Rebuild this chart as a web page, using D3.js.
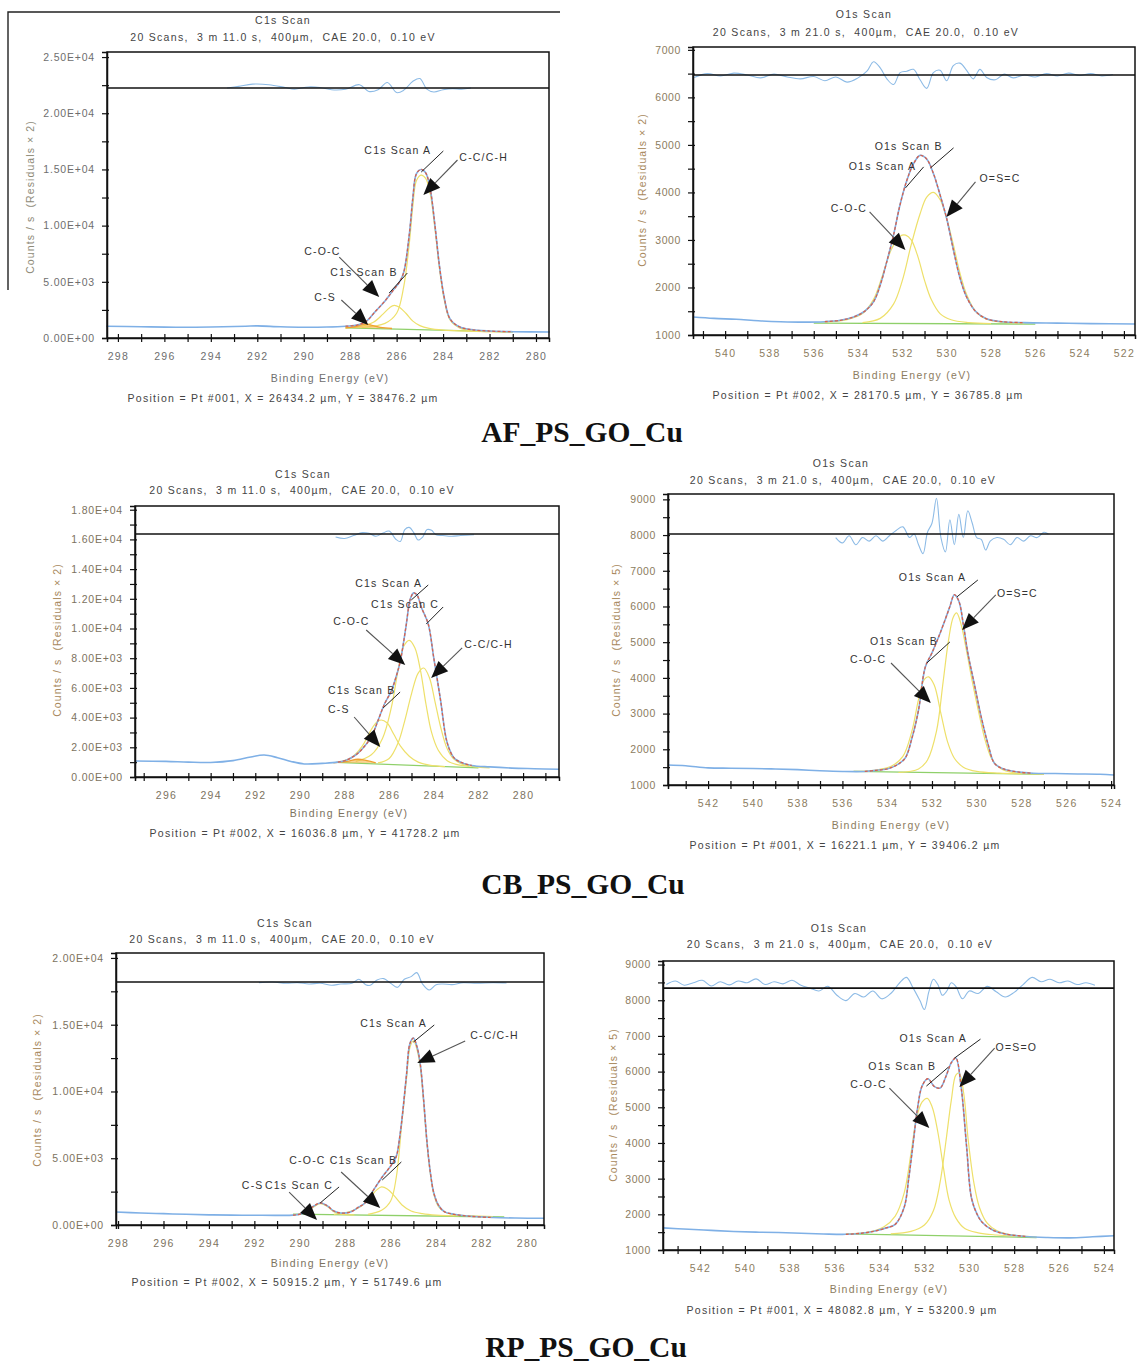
<!DOCTYPE html>
<html>
<head>
<meta charset="utf-8">
<script src="https://cdn.jsdelivr.net/npm/d3@7"></script>
<style>
  body { margin: 0; background: #fff; }
  svg text { font-family: "Liberation Sans", Arial, sans-serif; }
  svg text.caption { font-family: "Liberation Serif", "Times New Roman", serif; }
</style>
</head>
<body>
<svg id="fig" width="1138" height="1365"></svg>
<script>
// ---------- AF_PS_GO_Cu : C1s ----------
const afC1sEnvelope = [[298.5,1050],[297,1000],[295.5,960],[294,980],[292.5,1050],[292,1080],[291,1000],[290,960],[289,980],[288.2,1050],[287.7,1150],[287.3,1500],[286.9,2400],[286.5,3300],[286.15,4250],[285.9,4900],[285.7,5800],[285.45,9300],[285.3,12500],[285.15,14600],[284.95,15000],[284.75,14700],[284.55,13200],[284.35,10000],[284.15,6300],[283.95,3600],[283.7,1700],[283.3,1000],[282.8,750],[282,620],[281,560],[279.4,530]];
const afC1sCC = [[287.5,950],[286.5,1300],[286,2200],[285.7,4500],[285.45,8500],[285.3,11800],[285.15,14000],[284.95,14500],[284.75,14200],[284.55,12800],[284.35,9700],[284.15,6100],[283.95,3400],[283.7,1600],[283.3,900],[282.8,650],[282,560],[281,530]];
const afC1sCOC = [[288.2,900],[287.5,1050],[287,1400],[286.6,2100],[286.3,2700],[286.1,2900],[285.9,2750],[285.6,2200],[285.3,1500],[285,1100],[284.6,850],[284,700],[283,620],[282,560]];
const afC1sCS = [[288.2,900],[287.8,1000],[287.4,1250],[287.1,1150],[286.7,950],[286.2,850]];
const afC1sBackground = [[288.2,900],[281,540]];
const afC1sResidual = [[293.3,0],[292.8,150],[292.2,350],[291.5,300],[290.8,50],[290.4,-100],[289.8,100],[289.3,50],[288.8,-150],[288.2,-100],[287.6,300],[287.2,-300],[286.8,-150],[286.4,500],[286,-400],[285.7,-200],[285.3,600],[285.0,850],[284.7,-100],[284.4,-350],[284.0,-150],[283.6,-50],[283.2,-100],[282.8,0]];
const afC1sXTicks = [298,296,294,292,290,288,286,284,282,280];
const afC1sYTicks = [0,5000,10000,15000,20000,25000];

// ---------- AF_PS_GO_Cu : O1s ----------
const afO1sEnvelope = [[541.45,1380],[540.5,1350],[539.5,1330],[538.5,1300],[537.5,1280],[536.5,1270],[535.5,1280],[534.8,1310],[534.2,1380],[533.7,1500],[533.3,1700],[533,2050],[532.7,2550],[532.4,3100],[532.1,3750],[531.8,4250],[531.5,4600],[531.2,4780],[530.9,4700],[530.6,4400],[530.3,3950],[530.0,3450],[529.7,2800],[529.4,2200],[529.1,1800],[528.7,1500],[528.2,1340],[527.5,1280],[526.5,1260],[525,1250],[523.5,1240],[521.5,1230]];
const afO1sCOC = [[535.5,1270],[534.5,1320],[533.8,1450],[533.3,1750],[532.9,2250],[532.5,2800],[532.1,3080],[531.85,3100],[531.6,3000],[531.3,2650],[531.0,2150],[530.7,1750],[530.3,1450],[529.8,1320],[529,1260],[528,1240]];
const afO1sOSC = [[533.8,1260],[533,1350],[532.4,1650],[532,2150],[531.6,2900],[531.2,3550],[530.9,3900],[530.6,4000],[530.3,3850],[530,3450],[529.7,2900],[529.4,2300],[529.1,1850],[528.7,1500],[528.2,1330],[527.5,1270],[526.5,1240]];
const afO1sBackground = [[536,1250],[526,1230]];
const afO1sResidual = [[541.4,-50],[540.8,30],[540.2,-20],[539.6,40],[539,0],[538.4,-60],[537.8,20],[537.2,-40],[536.6,-80],[536,-30],[535.5,-120],[535,-40],[534.5,-150],[534,-60],[533.6,80],[533.3,280],[533,150],[532.7,-80],[532.4,-200],[532.1,50],[531.8,80],[531.5,120],[531.2,-100],[530.9,-280],[530.6,50],[530.3,100],[530,-120],[529.7,200],[529.4,250],[529.1,100],[528.8,-80],[528.5,120],[528.2,-50],[527.8,-100],[527.4,20],[527,-60],[526.5,0],[526,-40],[525.5,30],[525,-20],[524.5,40],[524,-10],[523.5,30],[523,-20],[522.5,10]];
const afO1sXTicks = [540,538,536,534,532,530,528,526,524,522];
const afO1sYTicks = [1000,2000,3000,4000,5000,6000,7000];

// ---------- CB_PS_GO_Cu : C1s ----------
const cbC1sEnvelope = [[297.39,1080],[296,1050],[295,1000],[294,980],[293,1100],[292.2,1350],[291.6,1480],[291,1300],[290.4,1050],[289.8,880],[289,920],[288.3,1000],[287.9,1150],[287.5,1480],[287.2,1900],[286.8,2700],[286.5,3800],[286.2,4950],[285.9,5800],[285.7,6700],[285.5,7800],[285.25,10100],[285.05,12000],[284.9,12400],[284.75,12250],[284.55,11400],[284.25,10300],[284.0,8000],[283.7,5200],[283.4,2300],[283.1,1300],[282.8,1000],[282.3,780],[281.5,680],[280.5,600],[279.5,560],[278.39,520]];
const cbC1sCS = [[288.3,1000],[287.7,1300],[287.2,2100],[286.8,3200],[286.55,3700],[286.36,3840],[286.1,3650],[285.8,2900],[285.5,2100],[285.1,1400],[284.7,1000],[284.2,800],[283.5,700]];
const cbC1sCOC = [[287.5,1050],[286.8,1500],[286.3,2600],[285.9,4700],[285.6,7200],[285.35,8800],[285.1,9200],[284.85,8700],[284.6,7200],[284.35,4900],[284.1,3000],[283.8,1800],[283.4,1100],[283,850],[282.4,720]];
const cbC1sCC = [[286.5,950],[286,1250],[285.6,2300],[285.3,3800],[285.0,5600],[284.7,7000],[284.45,7340],[284.2,6700],[283.95,5100],[283.7,3400],[283.4,1900],[283.1,1200],[282.7,850],[282.2,700],[281.5,620]];
const cbC1sSmall = [[288.5,950],[287.9,1050],[287.4,1200],[287.0,1100],[286.6,950]];
const cbC1sBackground = [[288.4,980],[282,620]];
const cbC1sResidual = [[288.4,-200],[288.0,-300],[287.6,-100],[287.2,100],[286.9,50],[286.6,-150],[286.3,50],[286.0,200],[285.7,-350],[285.5,-500],[285.3,300],[285.1,450],[284.9,100],[284.7,-400],[284.5,-200],[284.3,300],[284.1,250],[283.9,-50],[283.6,-100],[283.2,-150],[282.8,-100],[282.2,-50]];
const cbC1sXTicks = [296,294,292,290,288,286,284,282,280];
const cbC1sYTicks = [0,2000,4000,6000,8000,10000,12000,14000,16000,18000];

// ---------- CB_PS_GO_Cu : O1s ----------
const cbO1sEnvelope = [[543.79,1560],[543,1540],[542,1480],[541,1470],[540,1460],[539,1450],[538,1430],[537,1400],[536,1380],[535,1380],[534.5,1410],[534,1450],[533.6,1550],[533.2,1750],[532.9,2300],[532.6,3100],[532.3,4300],[532.0,4700],[531.7,5150],[531.4,5650],[531.2,6000],[531.0,6330],[530.8,6150],[530.6,5500],[530.4,4700],[530.1,3800],[529.8,2900],[529.5,2150],[529.2,1600],[528.8,1450],[528.1,1360],[527.5,1330],[526.5,1320],[525.5,1310],[524.5,1300],[523.87,1280]];
const cbO1sCOC = [[535.5,1380],[534.5,1420],[533.8,1530],[533.3,1800],[532.9,2500],[532.6,3400],[532.35,3950],[532.15,4030],[531.9,3800],[531.6,3000],[531.3,2200],[531,1750],[530.6,1500],[530,1380],[529,1330],[528,1310]];
const cbO1sOSC = [[533.5,1350],[532.6,1450],[532.2,1700],[531.8,2500],[531.5,3900],[531.25,5100],[531.05,5700],[530.9,5820],[530.7,5500],[530.5,4900],[530.2,3900],[529.9,3000],[529.6,2200],[529.3,1700],[528.9,1450],[528.4,1350],[527.5,1310],[527,1300]];
const cbO1sBackground = [[535.5,1380],[527,1300]];
const cbO1sResidual = [[536.3,-100],[536,-250],[535.7,-50],[535.4,-300],[535.1,-100],[534.8,-200],[534.5,-50],[534.2,-200],[533.9,-50],[533.6,100],[533.3,200],[533,-100],[532.8,0],[532.6,-300],[532.4,-550],[532.2,50],[532,300],[531.8,1000],[531.6,-100],[531.4,-500],[531.2,400],[531,-300],[530.8,550],[530.6,-100],[530.4,650],[530.2,300],[530,-100],[529.8,-150],[529.6,-450],[529.4,-200],[529.1,-100],[528.8,-150],[528.5,-300],[528.2,-100],[527.9,-200],[527.6,-50],[527.3,-100],[527,50],[526.8,0]];
const cbO1sXTicks = [542,540,538,536,534,532,530,528,526,524];
const cbO1sYTicks = [1000,2000,3000,4000,5000,6000,7000,8000,9000];

// ---------- RP_PS_GO_Cu : C1s ----------
const rpC1sEnvelope = [[298.09,970],[297,900],[296,850],[295,800],[294,760],[293,740],[292,730],[291,720],[290.3,740],[289.8,900],[289.4,1400],[289.1,1650],[288.8,1450],[288.5,1050],[288.2,900],[287.8,950],[287.4,1350],[287.13,1650],[286.8,2500],[286.37,3600],[286.05,4300],[285.76,5100],[285.6,6600],[285.46,8600],[285.3,11300],[285.15,13600],[285.0,14000],[284.85,13400],[284.7,12100],[284.55,9400],[284.4,6200],[284.25,3900],[284.1,2400],[283.9,1500],[283.64,1000],[283.2,800],[282.5,650],[281.5,560],[280.5,520],[279.25,500]];
const rpC1sScanC = [[290.3,750],[289.8,880],[289.4,1350],[289.1,1600],[288.8,1400],[288.5,1000],[288.2,820],[287.6,760]];
const rpC1sCO = [[288.5,800],[287.8,1000],[287.3,1400],[286.9,2100],[286.6,2650],[286.4,2850],[286.15,2700],[285.85,2200],[285.5,1500],[285.1,1050],[284.6,850],[284,740],[283,680]];
const rpC1sCC = [[287,800],[286.4,1100],[286,1800],[285.75,3600],[285.5,7800],[285.3,11000],[285.15,13300],[285.0,13800],[284.85,13200],[284.7,11900],[284.55,9200],[284.4,6100],[284.25,3800],[284.1,2300],[283.9,1400],[283.6,950],[283.1,760],[282.4,680],[281.5,620]];
const rpC1sBackground = [[290.3,820],[281,600]];
const rpC1sResidual = [[291.8,-50],[291.2,0],[290.6,-100],[290.1,-50],[289.6,-150],[289.1,-100],[288.6,-250],[288.2,-150],[287.7,-100],[287.4,200],[287.1,-200],[286.9,-250],[286.6,150],[286.3,250],[286.0,-100],[285.7,-400],[285.4,200],[285.1,400],[284.85,700],[284.6,-150],[284.3,-600],[284.0,-200],[283.7,-150],[283.3,-200],[282.8,-50],[282.2,-100],[281.5,-50],[280.9,-80]];
const rpC1sXTicks = [298,296,294,292,290,288,286,284,282,280];
const rpC1sYTicks = [0,5000,10000,15000,20000];

// ---------- RP_PS_GO_Cu : O1s ----------
const rpO1sEnvelope = [[543.65,1620],[542.5,1580],[541.5,1550],[540.5,1520],[539.5,1500],[538.5,1490],[537.5,1470],[536.5,1450],[535.5,1440],[534.8,1470],[534.2,1530],[533.7,1620],[533.3,1720],[532.9,2200],[532.7,3000],[532.5,4000],[532.3,5000],[532.1,5600],[531.85,5800],[531.55,5580],[531.3,5540],[531.05,5850],[530.8,6250],[530.6,6380],[530.36,5550],[530.12,3900],[529.9,2450],[529.65,2000],[529.43,1780],[528.96,1560],[528.4,1450],[527.5,1380],[526.5,1350],[525.5,1340],[524.5,1370],[523.55,1400]];
const rpO1sCOC = [[535.5,1450],[534.5,1500],[533.8,1650],[533.3,1950],[532.9,2600],[532.6,3700],[532.35,4700],[532.1,5150],[531.87,5250],[531.65,5000],[531.4,4300],[531.15,3300],[530.9,2400],[530.6,1900],[530.2,1600],[529.6,1480],[528.8,1420],[528,1390]];
const rpO1sOSO = [[533.5,1450],[532.6,1520],[532,1700],[531.6,2100],[531.3,2900],[531.05,4000],[530.8,5200],[530.6,5900],[530.45,5960],[530.25,5400],[530.05,4100],[529.8,2900],[529.55,2200],[529.2,1750],[528.8,1550],[528.2,1430],[527.5,1380],[527,1360]];
const rpO1sBackground = [[535.5,1450],[527,1350]];
const rpO1sResidual = [[543.5,100],[543.1,200],[542.7,80],[542.3,150],[541.9,220],[541.5,60],[541.1,180],[540.7,90],[540.3,200],[539.9,150],[539.5,260],[539.1,100],[538.7,180],[538.3,120],[537.9,220],[537.5,80],[537.1,0],[536.7,-80],[536.3,50],[535.9,-200],[535.5,-350],[535.1,-150],[534.7,-250],[534.3,-80],[533.9,-300],[533.5,-150],[533.1,150],[532.8,300],[532.5,0],[532.2,-350],[532.0,-600],[531.8,-100],[531.6,250],[531.4,100],[531.2,-200],[531.0,-80],[530.8,150],[530.6,50],[530.3,-300],[530,-80],[529.6,-150],[529.2,50],[528.8,-100],[528.4,-250],[528,-120],[527.6,100],[527.2,300],[526.8,180],[526.4,250],[526,150],[525.6,200],[525.2,100],[524.8,150],[524.4,80]];
const rpO1sXTicks = [542,540,538,536,534,532,530,528,526,524];
const rpO1sYTicks = [1000,2000,3000,4000,5000,6000,7000,8000,9000];

// ---------- texts ----------
const c1sSubtitle = "20 Scans,  3 m 11.0 s,  400µm,  CAE 20.0,  0.10 eV";
const o1sSubtitle = "20 Scans,  3 m 21.0 s,  400µm,  CAE 20.0,  0.10 eV";
const sampleNames = ["AF_PS_GO_Cu", "CB_PS_GO_Cu", "RP_PS_GO_Cu"];

const svg = d3.select('#fig');

function expFmt(v) {
  const s = v.toExponential(2).toUpperCase();
  return s.replace(/E([+-])(\d+)$/, (m, sg, e) => 'E' + sg + (e.length < 2 ? '0' + e : e));
}

function drawPanel(p) {
  const x = d3.scaleLinear().domain(p.xDomain).range([p.left, p.right]);
  const y = d3.scaleLinear().domain(p.yDomain).range([p.bottom, p.top]);
  const g = svg.append('g');
  const smooth = d3.line().x(d => x(d[0])).y(d => y(d[1])).curve(d3.curveCatmullRom.alpha(0.5));

  // residuals
  g.append('path').datum(p.residual)
    .attr('d', d3.line().x(d => x(d[0])).y(d => y(p.resLevel + d[1])).curve(d3.curveCatmullRom.alpha(0.5)))
    .attr('fill', 'none').attr('stroke', '#8dbbe6').attr('stroke-width', 1.1);

  // background + components
  g.append('path').datum(p.background).attr('d', smooth)
    .attr('fill', 'none').attr('stroke', '#8fd06a').attr('stroke-width', 1.3);
  p.components.forEach(c => {
    g.append('path').datum(c).attr('d', smooth)
      .attr('fill', 'none').attr('stroke', '#eee06a').attr('stroke-width', 1.2);
  });
  if (p.small) {
    g.append('path').datum(p.small).attr('d', smooth)
      .attr('fill', '#f4b040').attr('fill-opacity', 0.55)
      .attr('stroke', '#f0a030').attr('stroke-width', 1.4);
  }

  // measured data and fit envelope
  g.append('path').datum(p.envelope).attr('d', smooth)
    .attr('fill', 'none').attr('stroke', '#7fb0e6').attr('stroke-width', 1.6);
  const lo = Math.min(p.background[0][0], p.background[1][0]);
  const hi = Math.max(p.background[0][0], p.background[1][0]);
  g.append('path').datum(p.envelope.filter(d => d[0] >= lo && d[0] <= hi)).attr('d', smooth)
    .attr('fill', 'none').attr('stroke', '#d8604c').attr('stroke-width', 1.3)
    .attr('stroke-dasharray', '3,2');

  // plot frame and residual divider
  g.append('rect').attr('x', p.left).attr('y', p.top)
    .attr('width', p.right - p.left).attr('height', p.bottom - p.top)
    .attr('fill', 'none').attr('stroke', '#111').attr('stroke-width', 1.5);
  g.append('line').attr('x1', p.left).attr('x2', p.right)
    .attr('y1', y(p.resLevel)).attr('y2', y(p.resLevel))
    .attr('stroke', '#111').attr('stroke-width', 1.6);

  // x axis: tick every 1 eV, label every 2 eV
  const [xa, xb] = [Math.ceil(Math.min(...p.xDomain)), Math.floor(Math.max(...p.xDomain))];
  const xAll = d3.range(xa, xb + 1);
  const xAx = g.append('g').attr('transform', `translate(0,${p.bottom})`)
    .call(d3.axisBottom(x).tickValues(xAll).tickSizeOuter(0).tickSize(4).tickPadding(11)
      .tickFormat(d => p.xTicks.includes(d) ? d : ''));
  xAx.select('.domain').attr('stroke', '#111').attr('stroke-width', 1.5);
  xAx.selectAll('.tick line').attr('y1', -4).attr('y2', 4).attr('stroke', '#111').attr('stroke-width', 1.2);
  xAx.selectAll('.tick text').attr('fill', p.tickColor).attr('font-size', 10.5)
    .attr('letter-spacing', 1.3);

  // y axis with minor ticks
  const step = p.yTicks[1] - p.yTicks[0];
  const yAll = [];
  p.yTicks.forEach(t => { yAll.push(t); if (t + step / 2 <= p.yDomain[1]) yAll.push(t + step / 2); });
  const yAx = g.append('g').attr('transform', `translate(${p.left},0)`)
    .call(d3.axisLeft(y).tickValues(yAll).tickSizeOuter(0).tickSize(5).tickPadding(7)
      .tickFormat(d => p.yTicks.includes(d) ? (p.expLabels ? expFmt(d) : d) : ''));
  yAx.select('.domain').attr('stroke', '#111').attr('stroke-width', 1.5);
  yAx.selectAll('.tick line').attr('x1', -5).attr('x2', 2).attr('stroke', '#111').attr('stroke-width', 1.2);
  yAx.selectAll('.tick text').attr('fill', p.tickColor).attr('font-size', 10.5)
    .attr('letter-spacing', p.expLabels ? 0.8 : 0.6);

  // text
  const txt = (t, cx, cy, opts = {}) => g.append('text').attr('x', cx).attr('y', cy)
    .attr('dy', '0.35em').attr('text-anchor', opts.anchor || 'middle')
    .attr('font-size', opts.size || 10.5).attr('letter-spacing', opts.ls == null ? 1.3 : opts.ls)
    .attr('fill', opts.fill || '#444').style('white-space', 'pre').text(t);
  txt(p.title, p.titlePos[0], p.titlePos[1]);
  txt(p.subtitle, p.subPos[0], p.subPos[1]);
  txt('Binding Energy (eV)', p.xlabPos[0], p.xlabPos[1], { fill: p.tickColor });
  txt(p.position, p.posPos[0], p.posPos[1]);
  txt(p.ylabel, 0, 0, { fill: p.ylabColor, ls: 1.1 })
    .attr('transform', `translate(${p.ylabPos[0]},${p.ylabPos[1]}) rotate(-90)`);

  // annotations (in data coordinates)
  p.labels.forEach(l => txt(l[0], x(l[1]), y(l[2]), { anchor: 'start', fill: '#333', ls: 1.2 }));
  p.leaders.forEach(a => {
    const x1 = x(a[0]), y1 = y(a[1]), x2 = x(a[2]), y2 = y(a[3]);
    if (!a[4]) {
      g.append('line').attr('x1', x1).attr('y1', y1).attr('x2', x2).attr('y2', y2)
        .attr('stroke', '#222').attr('stroke-width', 1);
      return;
    }
    const ang = Math.atan2(y2 - y1, x2 - x1), L = 17, W = 7;
    const bx = x2 - L * Math.cos(ang), by = y2 - L * Math.sin(ang);
    g.append('line').attr('x1', x1).attr('y1', y1).attr('x2', bx).attr('y2', by)
      .attr('stroke', '#555').attr('stroke-width', 1.1);
    const px = -Math.sin(ang) * W, py = Math.cos(ang) * W;
    g.append('path').attr('d', `M${x2},${y2}L${bx + px},${by + py}L${bx - px},${by - py}Z`)
      .attr('fill', '#111');
  });
}

const panels = [
  { // AF C1s
    left: 107, right: 549, top: 52, bottom: 338,
    xDomain: [298.47, 279.44], yDomain: [0, 25450], resLevel: 22240,
    xTicks: afC1sXTicks, yTicks: afC1sYTicks, expLabels: true,
    envelope: afC1sEnvelope, components: [afC1sCOC, afC1sCC], small: afC1sCS,
    background: afC1sBackground, residual: afC1sResidual,
    title: 'C1s Scan', subtitle: c1sSubtitle,
    position: 'Position = Pt #001, X = 26434.2 µm, Y = 38476.2 µm',
    ylabel: 'Counts / s  (Residuals × 2)',
    titlePos: [283, 20], subPos: [283, 37], xlabPos: [330, 378], posPos: [283, 398], ylabPos: [30, 197],
    tickColor: '#6e6e6e', ylabColor: '#8e8a78',
    labels: [['C1s Scan A', 287.39, 16730], ['C-C/C-H', 283.3, 16100], ['C-O-C', 289.98, 7740],
             ['C1s Scan B', 288.86, 5870], ['C-S', 289.55, 3650]],
    leaders: [[283.99, 16640, 284.94, 14770, false], [283.38, 15840, 284.85, 12720, true],
              [288.47, 7200, 286.75, 3650, true], [285.54, 5780, 286.32, 4000, false],
              [288.38, 3380, 287.22, 1160, true]]
  },
  { // AF O1s
    left: 693, right: 1135, top: 47, bottom: 335,
    xDomain: [541.45, 521.5], yDomain: [1000, 7060], resLevel: 6470,
    xTicks: afO1sXTicks, yTicks: afO1sYTicks, expLabels: false,
    envelope: afO1sEnvelope, components: [afO1sCOC, afO1sOSC],
    background: afO1sBackground, residual: afO1sResidual,
    title: 'O1s Scan', subtitle: o1sSubtitle,
    position: 'Position = Pt #002, X = 28170.5 µm, Y = 36785.8 µm',
    ylabel: 'Counts / s  (Residuals × 2)',
    titlePos: [864, 14], subPos: [866, 32], xlabPos: [912, 375], posPos: [868, 395], ylabPos: [642, 190],
    tickColor: '#8c7c60', ylabColor: '#a8885c',
    labels: [['O1s Scan B', 533.25, 4960], ['O1s Scan A', 534.42, 4558], ['O=S=C', 528.52, 4305], ['C-O-C', 535.23, 3674]],
    leaders: [[529.69, 4937, 530.73, 4516, false], [531.04, 4537, 531.86, 4095, false],
              [528.7, 4221, 530.01, 3484, true], [533.48, 3589, 531.86, 2789, true]]
  },
  { // CB C1s
    left: 135, right: 559, top: 506, bottom: 777,
    xDomain: [297.39, 278.39], yDomain: [0, 18250], resLevel: 16360,
    xTicks: cbC1sXTicks, yTicks: cbC1sYTicks, expLabels: true,
    envelope: cbC1sEnvelope, components: [cbC1sCS, cbC1sCOC, cbC1sCC], small: cbC1sSmall,
    background: cbC1sBackground, residual: cbC1sResidual,
    title: 'C1s Scan', subtitle: c1sSubtitle,
    position: 'Position = Pt #002, X = 16036.8 µm, Y = 41728.2 µm',
    ylabel: 'Counts / s  (Residuals × 2)',
    titlePos: [303, 474], subPos: [302, 490], xlabPos: [349, 813], posPos: [305, 833], ylabPos: [57, 640],
    tickColor: '#7c725e', ylabColor: '#a8885c',
    labels: [['C1s Scan A', 287.52, 13064], ['C1s Scan C', 286.81, 11650], ['C-O-C', 288.51, 10505],
             ['C-C/C-H', 282.64, 8956], ['C1s Scan B', 288.74, 5860], ['C-S', 288.74, 4580]],
    leaders: [[284.25, 12930, 285.01, 11920, false], [283.58, 11450, 284.34, 10300, false],
              [287.03, 9900, 285.28, 7540, true], [282.73, 8690, 284.12, 6670, true],
              [285.51, 5720, 286.27, 4650, false], [287.57, 4040, 286.4, 2020, true]]
  },
  { // CB O1s
    left: 668, right: 1114, top: 494, bottom: 785,
    xDomain: [543.79, 523.87], yDomain: [1000, 9150], resLevel: 8030,
    xTicks: cbO1sXTicks, yTicks: cbO1sYTicks, expLabels: false,
    envelope: cbO1sEnvelope, components: [cbO1sCOC, cbO1sOSC],
    background: cbO1sBackground, residual: cbO1sResidual,
    title: 'O1s Scan', subtitle: o1sSubtitle,
    position: 'Position = Pt #001, X = 16221.1 µm, Y = 39406.2 µm',
    ylabel: 'Counts / s  (Residuals × 5)',
    titlePos: [841, 463], subPos: [843, 480], xlabPos: [891, 825], posPos: [845, 845], ylabPos: [616, 640],
    tickColor: '#8c7c60', ylabColor: '#a8885c',
    labels: [['O1s Scan A', 533.48, 6826], ['O=S=C', 529.1, 6378], ['O1s Scan B', 534.77, 5034], ['C-O-C', 535.66, 4529]],
    leaders: [[529.95, 6742, 530.89, 6266, false], [529.15, 6322, 530.66, 5342, true],
              [531.2, 5006, 532.23, 4417, false], [533.83, 4417, 532.05, 3297, true]]
  },
  { // RP C1s
    left: 116, right: 544, top: 953, bottom: 1225,
    xDomain: [298.09, 279.25], yDomain: [0, 20370], resLevel: 18200,
    xTicks: rpC1sXTicks, yTicks: rpC1sYTicks, expLabels: true,
    envelope: rpC1sEnvelope, components: [rpC1sScanC, rpC1sCO, rpC1sCC],
    background: rpC1sBackground, residual: rpC1sResidual,
    title: 'C1s Scan', subtitle: c1sSubtitle,
    position: 'Position = Pt #002, X = 50915.2 µm, Y = 51749.6 µm',
    ylabel: 'Counts / s  (Residuals × 2)',
    titlePos: [285, 923], subPos: [282, 939], xlabPos: [330, 1263], posPos: [287, 1282], ylabPos: [37, 1090],
    tickColor: '#7c725e', ylabColor: '#a8885c',
    labels: [['C1s Scan A', 287.34, 15131], ['C-C/C-H', 282.5, 14232], ['C-O-C', 290.46, 4870],
             ['C1s Scan B', 288.68, 4870], ['C1s Scan C', 291.53, 3000], ['C-S', 292.55, 3000]],
    leaders: [[284.08, 14980, 285.0, 13700, false], [282.72, 13780, 284.83, 12130, true],
              [285.53, 4720, 286.37, 3370, false], [288.18, 3970, 286.46, 1270, true],
              [288.27, 2850, 289.1, 1650, false], [290.47, 2470, 289.24, 375, true]]
  },
  { // RP O1s
    left: 663, right: 1114, top: 961, bottom: 1250,
    xDomain: [543.65, 523.55], yDomain: [1000, 9100], resLevel: 8340,
    xTicks: rpO1sXTicks, yTicks: rpO1sYTicks, expLabels: false,
    envelope: rpO1sEnvelope, components: [rpO1sCOC, rpO1sOSO],
    background: rpO1sBackground, residual: rpO1sResidual,
    title: 'O1s Scan', subtitle: o1sSubtitle,
    position: 'Position = Pt #001, X = 48082.8 µm, Y = 53200.9 µm',
    ylabel: 'Counts / s  (Residuals × 5)',
    titlePos: [839, 928], subPos: [840, 944], xlabPos: [889, 1289], posPos: [842, 1310], ylabPos: [613, 1105],
    tickColor: '#8c7c60', ylabColor: '#a8885c',
    labels: [['O1s Scan A', 533.11, 6938], ['O=S=O', 528.83, 6686], ['O1s Scan B', 534.5, 6154], ['C-O-C', 535.3, 5650]],
    leaders: [[529.5, 6910, 530.66, 6378, false], [528.87, 6658, 530.44, 5566, true],
              [530.93, 6126, 531.91, 5594, false], [533.56, 5538, 531.78, 4417, true]]
  }
];

// leftover frame from the scanned page (top-left panel)
svg.append('path').attr('d', 'M8,290V12H560').attr('fill', 'none').attr('stroke', '#222').attr('stroke-width', 1.4);

panels.forEach(drawPanel);

// sample captions
const captionPos = [[582, 442], [583, 894], [586, 1357]];
sampleNames.forEach((n, i) => {
  svg.append('text').attr('class', 'caption')
    .attr('x', captionPos[i][0]).attr('y', captionPos[i][1])
    .attr('text-anchor', 'middle')
    .attr('font-weight', 'bold').attr('font-size', 29.5).attr('fill', '#111').text(n);
});
</script>
</body>
</html>
